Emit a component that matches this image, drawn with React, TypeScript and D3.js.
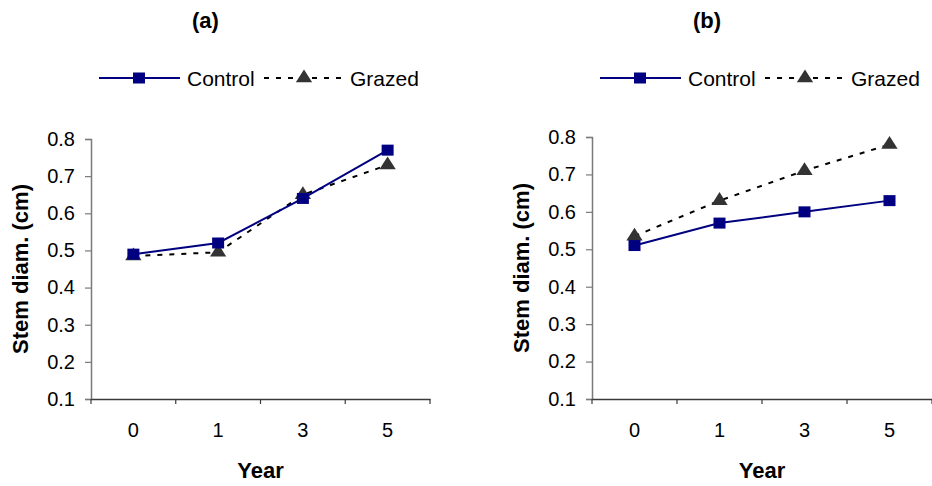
import React, { useRef, useEffect } from 'react';
import * as d3 from 'd3';

// Data
const years = ['0', '1', '3', '5'];
const yTicks = [0.1, 0.2, 0.3, 0.4, 0.5, 0.6, 0.7, 0.8];
const seriesNames = ['Control', 'Grazed'];
const controlA = [0.49, 0.52, 0.64, 0.77];
const grazedA = [0.485, 0.495, 0.65, 0.73];
const controlB = [0.51, 0.57, 0.6, 0.63];
const grazedB = [0.535, 0.63, 0.71, 0.78];

const FONT = '"Liberation Sans", Arial, sans-serif';
const NAVY = '#000080';
const DARK = '#333333';

const drawPanel = (svg, { title, control, grazed, left, top, right, bottom }) => {
  const g = svg.append('g');

  const x = d3.scaleBand().domain(years).range([left, right]).padding(0);
  const y = d3.scaleLinear().domain([0.1, 0.8]).range([bottom, top]);
  const cx = d => x(d) + x.bandwidth() / 2;

  // y axis
  const yAxis = g.append('g')
    .attr('transform', `translate(${left},0)`)
    .call(d3.axisLeft(y).tickValues(yTicks).tickFormat(d3.format('.1f')).tickSize(6).tickPadding(10));
  yAxis.select('.domain').attr('stroke', '#7a7a7a').attr('stroke-width', 1.5);
  yAxis.selectAll('.tick line').attr('stroke', '#7a7a7a').attr('stroke-width', 1.2);
  yAxis.selectAll('.tick text')
    .attr('font-family', FONT).attr('font-size', 20).attr('fill', '#000');

  // x axis: labels at band centres, ticks at band edges
  const xAxis = g.append('g')
    .attr('transform', `translate(0,${bottom})`)
    .call(d3.axisBottom(x).tickSize(0).tickPadding(24));
  xAxis.select('.domain').attr('stroke', '#3a3a3a').attr('stroke-width', 1.5);
  xAxis.selectAll('.tick text')
    .attr('font-family', FONT).attr('font-size', 20).attr('fill', '#000');
  const edges = years.map(d => x(d)).concat([x.range()[1]]);
  g.selectAll('.xedge')
    .data(edges)
    .enter()
    .append('line')
    .attr('x1', d => d).attr('x2', d => d)
    .attr('y1', bottom).attr('y2', bottom + 5)
    .attr('stroke', '#3a3a3a').attr('stroke-width', 1.2);

  // axis titles
  g.append('text')
    .attr('x', (left + right) / 2).attr('y', bottom + 79)
    .attr('text-anchor', 'middle')
    .attr('font-family', FONT).attr('font-size', 22).attr('font-weight', 'bold')
    .text('Year');
  g.append('text')
    .attr('transform', `translate(${left - 63},${(top + bottom) / 2}) rotate(-90)`)
    .attr('text-anchor', 'middle')
    .attr('font-family', FONT).attr('font-size', 22).attr('font-weight', 'bold')
    .text('Stem diam. (cm)');

  // panel title
  g.append('text')
    .attr('x', (left + right) / 2 - 55).attr('y', 28)
    .attr('text-anchor', 'middle')
    .attr('font-family', FONT).attr('font-size', 22).attr('font-weight', 'bold')
    .text(title);

  // lines
  const line = d3.line().x(d => cx(d[0])).y(d => y(d[1]));
  const pairs = vals => years.map((yr, i) => [yr, vals[i]]);

  g.append('path')
    .datum(pairs(grazed))
    .attr('d', line)
    .attr('fill', 'none').attr('stroke', '#000').attr('stroke-width', 2)
    .attr('stroke-dasharray', '5,7');
  g.append('path')
    .datum(pairs(control))
    .attr('d', line)
    .attr('fill', 'none').attr('stroke', NAVY).attr('stroke-width', 2);

  const tri = d3.symbol().type(d3.symbolTriangle).size(95);
  g.selectAll('.tri')
    .data(pairs(grazed))
    .enter()
    .append('path')
    .attr('d', tri)
    .attr('transform', d => `translate(${cx(d[0])},${y(d[1])}) scale(1.1,1)`)
    .attr('fill', DARK);

  g.selectAll('.sq')
    .data(pairs(control))
    .enter()
    .append('rect')
    .attr('x', d => cx(d[0]) - 6).attr('y', d => y(d[1]) - 5.5)
    .attr('width', 12).attr('height', 11)
    .attr('fill', NAVY);

  // legend
  const ly = 78;
  const lx = left + 8;
  g.append('line').attr('x1', lx).attr('x2', lx + 81).attr('y1', ly).attr('y2', ly)
    .attr('stroke', NAVY).attr('stroke-width', 2);
  g.append('rect').attr('x', lx + 40 - 6).attr('y', ly - 5.5).attr('width', 12).attr('height', 11)
    .attr('fill', NAVY);
  g.append('text').attr('x', lx + 88).attr('y', ly + 7.5)
    .attr('font-family', FONT).attr('font-size', 21).text(seriesNames[0]);
  g.append('line').attr('x1', lx + 165).attr('x2', lx + 242).attr('y1', ly).attr('y2', ly)
    .attr('stroke', '#000').attr('stroke-width', 2).attr('stroke-dasharray', '5,7');
  g.append('path').attr('d', tri)
    .attr('transform', `translate(${lx + 205},${ly}) scale(1.1,1)`)
    .attr('fill', DARK);
  g.append('text').attr('x', lx + 251).attr('y', ly + 7.5)
    .attr('font-family', FONT).attr('font-size', 21).text(seriesNames[1]);
};

const App = () => {
  const svgRef = useRef(null);

  useEffect(() => {
    const svg = d3.select(svgRef.current);
    svg.selectAll('*').remove();

    drawPanel(svg, { title: '(a)', control: controlA, grazed: grazedA, left: 91, right: 430, top: 139, bottom: 399 });
    drawPanel(svg, { title: '(b)', control: controlB, grazed: grazedB, left: 592, right: 932, top: 137, bottom: 399 });

    return () => {
      svg.selectAll('*').remove();
    };
  }, []);

  return (
    <svg
      ref={svgRef}
      width={932}
      height={486}
      style={{ position: 'absolute', left: 0, top: 0, background: '#fff' }}
    />
  );
};

export default App;
